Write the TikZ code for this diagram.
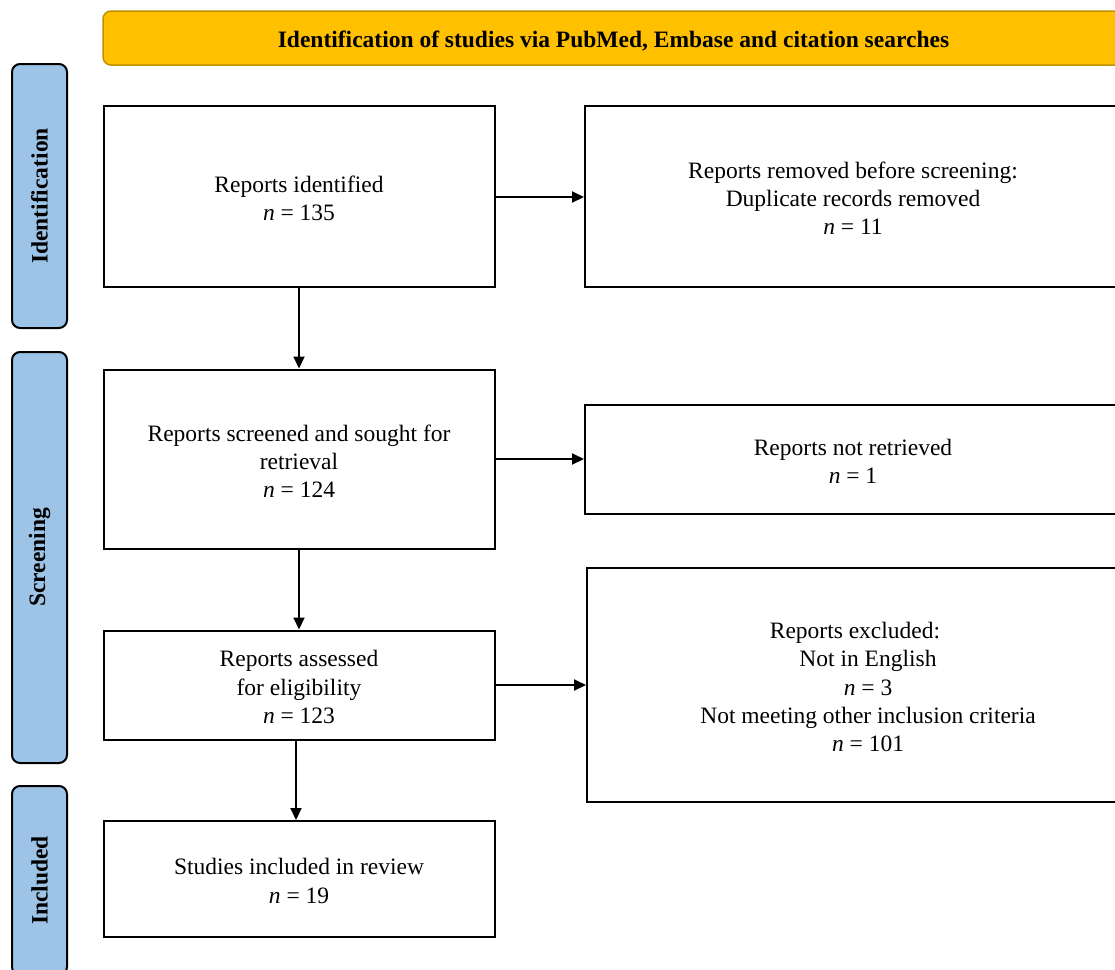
\documentclass[tikz,border=0pt]{standalone}
\usepackage{fontspec}
\setmainfont{Liberation Serif}
\usetikzlibrary{arrows.meta}
\definecolor{headfill}{HTML}{FFC000}
\definecolor{headdraw}{HTML}{BF9000}
\definecolor{sideblue}{HTML}{9DC3E6}
\begin{document}
\begin{tikzpicture}[x=1pt,y=-1pt,
  txt/.style={font=\fontsize{23.5}{28.2}\selectfont, align=center, inner sep=0pt},
  flowbox/.style={draw=black, line width=2pt, fill=white, inner sep=0pt},
  sidebox/.style={draw=black, line width=2pt, fill=sideblue, rounded corners=8pt, rotate=90,
    minimum height=55pt, inner sep=0pt, font=\fontsize{23.5}{28.2}\selectfont\bfseries},
  headbox/.style={draw=headdraw, line width=1.5pt, fill=headfill, rounded corners=8pt, inner sep=0pt},
  headtxt/.style={font=\fontsize{23.5}{28.2}\selectfont\bfseries, inner sep=0pt},
  arr/.style={line width=2pt, -{Triangle[length=12pt,width=11pt]}}]
\useasboundingbox (0,0) rectangle (1115,969);
\clip (0,0) rectangle (1115,969);
\fill[white] (0,0) rectangle (1115,969);

\node[headbox, minimum width=1021pt, minimum height=54pt] (head) at (613.5,38) {};
\node[headtxt] (headt) at ([yshift=-3pt]head.center)
  {Identification of studies via PubMed, Embase and citation searches};

\node[sidebox, minimum width=264pt] (sideid) at (39.5,196) {Identification};
\node[sidebox, minimum width=411pt] (sidescr) at (39.5,557.5) {Screening};
\node[sidebox, minimum width=189pt] (sideinc) at (39.5,880.5) {Included};

\node[flowbox, minimum width=391pt, minimum height=181pt] (b1) at (299,196.5) {};
\node[txt] (b1t) at ([yshift=-2pt]b1.center) {Reports identified\\\textit{n} = 135};
\node[flowbox, minimum width=536pt, minimum height=181pt] (r1) at (853,196.5) {};
\node[txt] (r1t) at ([yshift=-2pt]r1.center)
  {Reports removed before screening:\\Duplicate records removed\\\textit{n} = 11};

\node[flowbox, minimum width=391pt, minimum height=179pt] (b2) at (299,459) {};
\node[txt] (b2t) at ([yshift=-2pt]b2.center)
  {Reports screened and sought for\\retrieval\\\textit{n} = 124};
\node[flowbox, minimum width=536pt, minimum height=109pt] (r2) at (853,459) {};
\node[txt] (r2t) at ([yshift=-2pt]r2.center) {Reports not retrieved\\\textit{n} = 1};

\node[flowbox, minimum width=391pt, minimum height=109pt] (b3) at (299,685) {};
\node[txt] (b3t) at ([yshift=-2pt]b3.center)
  {Reports assessed\\for eligibility\\\textit{n} = 123};
\node[flowbox, minimum width=562pt, minimum height=234pt] (r3) at (868,685) {};
\node[txt] (r3t) at ([yshift=-2pt]r3.center)
  {Reports excluded:\phantom{\hspace{26pt}}\\Not in English\\\textit{n} = 3\\Not meeting other inclusion criteria\\\textit{n} = 101};

\node[flowbox, minimum width=391pt, minimum height=116pt] (b4) at (299,879) {};
\node[txt] (b4t) at ([yshift=-2pt]b4.center) {Studies included in review\\\textit{n} = 19};

\draw[arr] ([yshift=-0.5pt]b1.east) -- ([yshift=-0.5pt]b1.east -| r1.west);
\draw[arr] (b2.east) -- (r2.west);
\draw[arr] (b3.east) -- (r3.west);
\draw[arr] (b1.south) -- (b2.north);
\draw[arr] (b2.south) -- (b3.north);
\draw[arr] ([xshift=-3pt]b3.south) -- ([xshift=-3pt]b4.north);
\end{tikzpicture}
\end{document}
